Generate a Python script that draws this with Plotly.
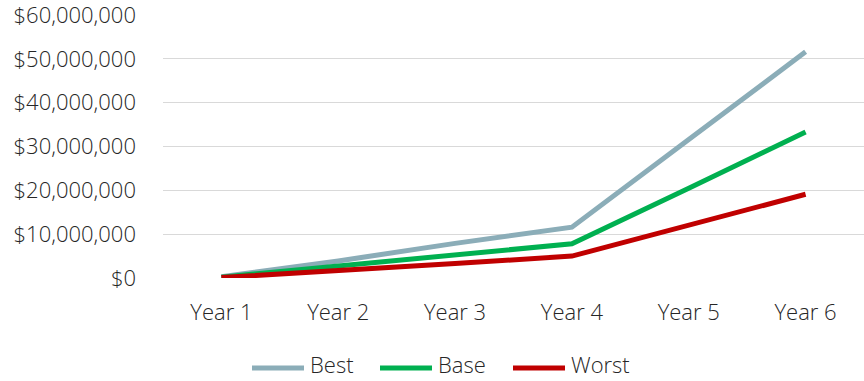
import plotly.graph_objects as go

years = ["Year 1", "Year 2", "Year 3", "Year 4", "Year 5", "Year 6"]
best = [300000, 3900000, 7900000, 11600000, 31600000, 51600000]
base = [200000, 2800000, 5250000, 7800000, 20500000, 33300000]
worst = [100000, 1600000, 3300000, 5000000, 12000000, 19100000]

series = [
    ("Best", best, "#8BADB8"),
    ("Base", base, "#00B050"),
    ("Worst", worst, "#C00000"),
]

FONT = dict(family="Open Sans", size=22, color="#262626", weight=300)

# plot area in pixels, used to place the hand-built legend below the axis
L, R, T, B = 163, 864, 15, 278
W, H = R - L, B - T


def px_x(x):
    return (x - L) / W


def px_y(y):
    return (B - y) / H


fig = go.Figure()
for name, values, color in series:
    fig.add_trace(go.Scatter(
        x=years, y=values, name=name, mode="lines",
        line=dict(color=color, width=5), showlegend=False,
    ))

# legend: a swatch line followed by the series name
legend_starts = [250, 378, 511]
legend_y = 368
for (name, _, color), x0 in zip(series, legend_starts):
    fig.add_shape(
        type="line", xref="paper", yref="paper",
        x0=px_x(x0 + 2), x1=px_x(x0 + 54), y0=px_y(legend_y), y1=px_y(legend_y),
        line=dict(color=color, width=5),
    )
    fig.add_annotation(
        xref="paper", yref="paper", x=px_x(x0 + 59), y=px_y(380),
        xanchor="left", yanchor="bottom", text=name, showarrow=False,
        font=FONT, borderpad=0,
    )

fig.update_layout(
    width=864, height=381,
    margin=dict(l=L, r=864 - R, t=T, b=381 - B, autoexpand=False),
    paper_bgcolor="white", plot_bgcolor="white",
    font=FONT,
    showlegend=False,
)
fig.update_xaxes(
    type="category", range=[-0.5, 5.5], showgrid=False, zeroline=False,
    showline=False, ticks="", ticklabelstandoff=19, tickfont=FONT,
)
fig.update_yaxes(
    range=[0, 60000000], dtick=10000000, tickformat="$,.0f",
    showgrid=True, gridcolor="#D9D9D9", gridwidth=1.3,
    zeroline=False, showline=False, ticks="", ticklabelstandoff=26,
    ticklabeloverflow="allow", tickfont=FONT,
)

fig.write_html("out.html")
